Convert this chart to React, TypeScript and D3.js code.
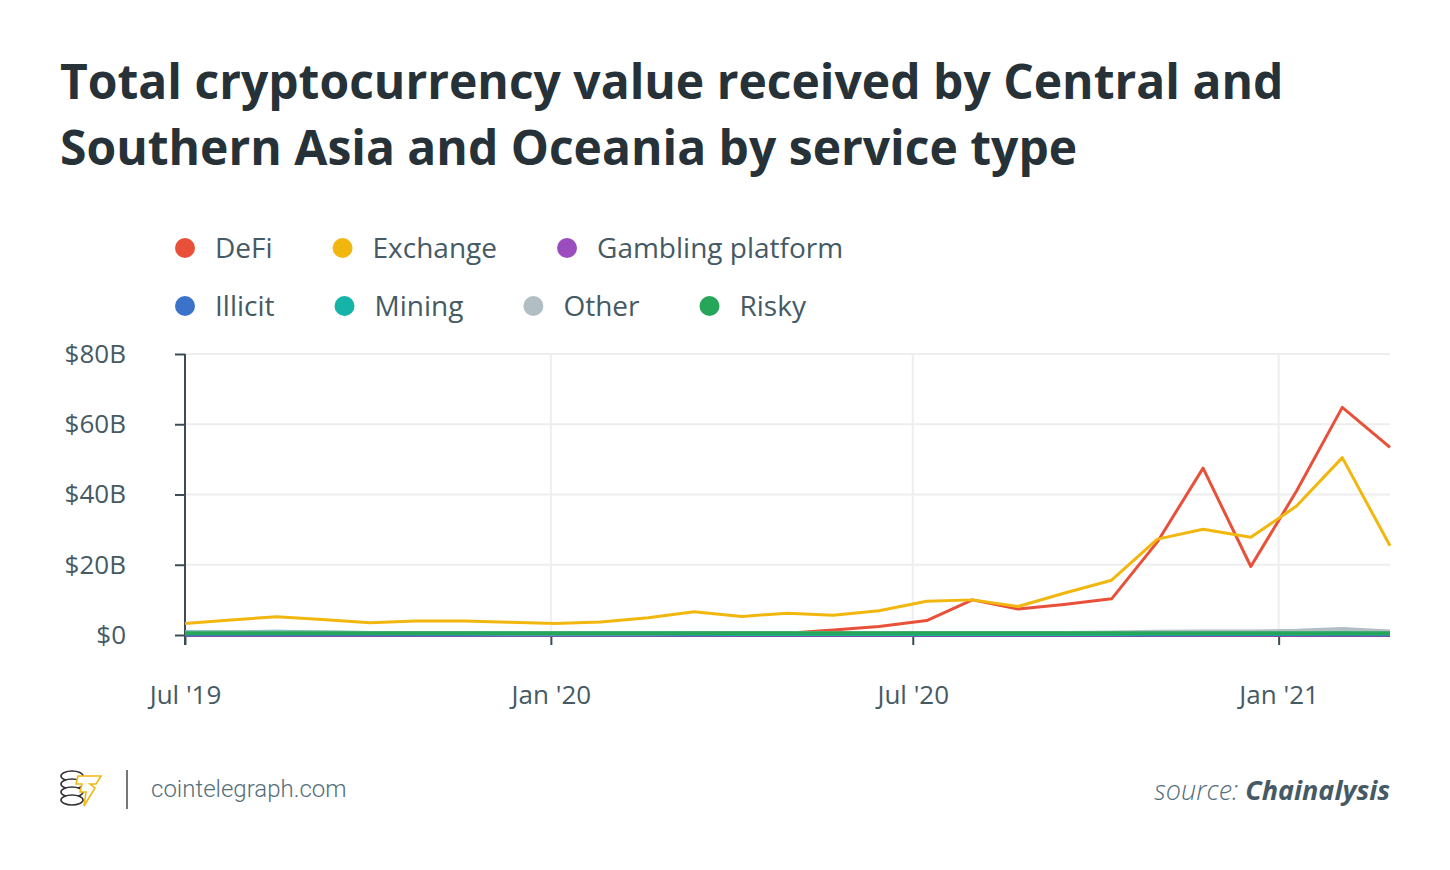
import React, { useEffect, useRef } from "react";
import * as d3 from "d3";

// sampling dates of the series (roughly every 3 weeks)
const dates = [
  "2019-07-01", "2019-07-24", "2019-08-16", "2019-09-08", "2019-10-02", "2019-10-25",
  "2019-11-18", "2019-12-11", "2020-01-03", "2020-01-26", "2020-02-19", "2020-03-13",
  "2020-04-06", "2020-04-29", "2020-05-22", "2020-06-14", "2020-07-08", "2020-07-31",
  "2020-08-23", "2020-09-15", "2020-10-09", "2020-11-01", "2020-11-24", "2020-12-18",
  "2021-01-10", "2021-02-02", "2021-02-26",
];

// values in $B
const defi = [
  0.1, 0.1, 0.1, 0.1, 0.1, 0.1, 0.1, 0.1, 0.1, 0.1, 0.1, 0.2, 0.3, 0.5,
  1.4, 2.4, 4.1, 10.0, 7.4, 8.7, 10.3, 26.5, 47.5, 19.5, 41.0, 64.8, 53.4,
];
const exchange = [
  3.3, 4.3, 5.2, 4.4, 3.5, 4.0, 4.0, 3.6, 3.3, 3.7, 4.9, 6.6, 5.3, 6.2,
  5.6, 6.9, 9.6, 10.0, 8.1, 11.9, 15.6, 27.3, 30.1, 27.8, 36.7, 50.5, 25.4,
];
const gambling = [
  0.1, 0.1, 0.1, 0.1, 0.1, 0.1, 0.1, 0.1, 0.1, 0.1, 0.1, 0.1, 0.1, 0.1,
  0.1, 0.1, 0.1, 0.1, 0.1, 0.1, 0.1, 0.1, 0.1, 0.1, 0.1, 0.1, 0.1,
];
const illicit = [
  0.2, 0.2, 0.2, 0.2, 0.2, 0.2, 0.2, 0.2, 0.2, 0.2, 0.2, 0.2, 0.2, 0.2,
  0.2, 0.2, 0.2, 0.2, 0.2, 0.2, 0.2, 0.2, 0.3, 0.3, 0.3, 0.3, 0.3,
];
const mining = [
  0.8, 0.8, 0.9, 0.7, 0.6, 0.5, 0.5, 0.4, 0.4, 0.4, 0.4, 0.4, 0.3, 0.3,
  0.3, 0.3, 0.3, 0.3, 0.3, 0.3, 0.3, 0.4, 0.4, 0.4, 0.4, 0.5, 0.4,
];
const other = [
  0.7, 0.8, 0.8, 0.7, 0.6, 0.6, 0.6, 0.5, 0.5, 0.5, 0.5, 0.6, 0.6, 0.6,
  0.6, 0.6, 0.6, 0.6, 0.6, 0.6, 0.7, 0.9, 1.0, 1.0, 1.2, 1.7, 1.0,
];
const risky = [
  0.5, 0.5, 0.5, 0.5, 0.5, 0.5, 0.5, 0.5, 0.5, 0.5, 0.5, 0.5, 0.5, 0.5,
  0.5, 0.5, 0.5, 0.5, 0.5, 0.5, 0.5, 0.5, 0.5, 0.5, 0.5, 0.5, 0.5,
];

const seriesNames = ["DeFi", "Exchange", "Gambling platform", "Illicit", "Mining", "Other", "Risky"];
const seriesValues = [defi, exchange, gambling, illicit, mining, other, risky];
const seriesColors = ["#e8503a", "#f2b70f", "#9b4dbd", "#3a73c9", "#15b3a8", "#b1bec4", "#25a65a"];

const yTicks = [0, 20, 40, 60, 80];
const xTickDates = ["2019-07-01", "2020-01-01", "2020-07-01", "2021-01-01"];

const App: React.FC = () => {
  const svgRef = useRef<SVGSVGElement | null>(null);

  useEffect(() => {
    document.body.style.margin = "0";
    if (!svgRef.current) return;

    const width = 1450;
    const height = 870;
    const svg = d3.select(svgRef.current);
    svg.selectAll("*").remove();
    svg.attr("width", width).attr("height", height);

    const left = 185, right = 1390, top = 354, bottom = 635;
    const textColor = "#455a64";
    const axisColor = "#3b4c55";
    const font = "'Open Sans', sans-serif";

    const parse = d3.timeParse("%Y-%m-%d");
    const xDates = dates.map(d => parse(d)!);

    const x = d3.scaleTime()
      .domain(d3.extent(xDates) as [Date, Date])
      .range([left, right]);
    const y = d3.scaleLinear().domain([0, 80]).range([bottom, top]);

    // title
    const title = svg.append("text")
      .attr("font-family", font)
      .attr("font-weight", 700)
      .attr("font-size", 48)
      .attr("fill", "#263238");
    title.append("tspan").attr("x", 60).attr("y", 99)
      .text("Total cryptocurrency value received by Central and");
    title.append("tspan").attr("x", 60).attr("y", 165)
      .text("Southern Asia and Oceania by service type");

    // legend
    const rows = [[0, 1, 2], [3, 4, 5, 6]];
    rows.forEach((row, ri) => {
      let cx = 185;
      const cy = 248 + ri * 58;
      row.forEach(i => {
        svg.append("circle").attr("cx", cx).attr("cy", cy).attr("r", 10)
          .attr("fill", seriesColors[i]);
        const t = svg.append("text")
          .attr("x", cx + 30).attr("y", cy)
          .attr("dy", "0.36em")
          .attr("font-family", font)
          .attr("font-size", 28)
          .attr("fill", textColor)
          .text(seriesNames[i]);
        const w = (t.node() as SVGTextElement).getComputedTextLength();
        cx = cx + 30 + w + 70;
      });
    });

    // grid
    svg.append("g")
      .selectAll("line")
      .data(yTicks.slice(1))
      .enter()
      .append("line")
      .attr("x1", left).attr("x2", right)
      .attr("y1", d => y(d)).attr("y2", d => y(d))
      .attr("stroke", "#eeeeee").attr("stroke-width", 2);

    const xTicks = xTickDates.map(d => parse(d)!);
    svg.append("g")
      .selectAll("line")
      .data(xTicks.slice(1))
      .enter()
      .append("line")
      .attr("x1", d => x(d)).attr("x2", d => x(d))
      .attr("y1", top).attr("y2", bottom)
      .attr("stroke", "#eeeeee").attr("stroke-width", 2);

    // y axis
    const yAxis = svg.append("g")
      .attr("transform", `translate(${left},0)`)
      .call(d3.axisLeft(y).tickValues(yTicks).tickSize(10).tickPadding(49)
        .tickFormat(d => (+d === 0 ? "$0" : `$${d}B`)));
    yAxis.select(".domain").remove();
    yAxis.selectAll("line").attr("stroke", axisColor).attr("stroke-width", 2);
    yAxis.selectAll("text")
      .attr("font-family", font).attr("font-size", 26).attr("fill", textColor);
    svg.append("line")
      .attr("x1", left).attr("x2", left).attr("y1", top).attr("y2", bottom + 10)
      .attr("stroke", axisColor).attr("stroke-width", 2);

    // x axis
    const xAxis = svg.append("g")
      .attr("transform", `translate(0,${bottom})`)
      .call(d3.axisBottom(x).tickValues(xTicks).tickSize(10).tickPadding(41)
        .tickFormat(d => d3.timeFormat("%b '%y")(d as Date)));
    xAxis.select(".domain").remove();
    xAxis.selectAll("line").attr("stroke", axisColor).attr("stroke-width", 2);
    xAxis.selectAll("text")
      .attr("font-family", font).attr("font-size", 26).attr("fill", textColor);
    svg.append("line")
      .attr("x1", left).attr("x2", right).attr("y1", bottom + 1).attr("y2", bottom + 1)
      .attr("stroke", axisColor).attr("stroke-width", 2);

    // series lines (drawn over the axes)
    const line = d3.line<number>()
      .x((_, i) => x(xDates[i]))
      .y(d => y(d));

    seriesValues.forEach((vals, i) => {
      svg.append("path")
        .datum(vals)
        .attr("fill", "none")
        .attr("stroke", seriesColors[i])
        .attr("stroke-width", i < 2 ? 3 : 4)
        .attr("stroke-linejoin", "round")
        .attr("d", line);
    });

    // footer logo
    const logo = svg.append("g").attr("fill", "none").attr("stroke-width", 1.6);
    [0, 8, 16, 24].forEach(o => {
      logo.append("ellipse").attr("cx", 72).attr("cy", 776 + o).attr("rx", 11).attr("ry", 5)
        .attr("stroke", "#333").attr("fill", "#fff");
    });
    logo.append("path")
      .attr("d", "M78,776 L101,776 L96,784 L90,784 L95,788 L84,806 L86,792 L80,792 L82,784 L76,784 Z")
      .attr("stroke", "#f2b70f").attr("fill", "#fff");
    svg.append("line")
      .attr("x1", 127).attr("x2", 127).attr("y1", 770).attr("y2", 809)
      .attr("stroke", "#777").attr("stroke-width", 2);
    svg.append("text")
      .attr("x", 151).attr("y", 797)
      .attr("font-family", "Roboto, sans-serif")
      .attr("font-weight", 300)
      .attr("font-size", 24)
      .attr("fill", "#546e7a")
      .text("cointelegraph.com");

    // source
    const src = svg.append("text")
      .attr("x", right).attr("y", 800)
      .attr("text-anchor", "end")
      .attr("font-family", font)
      .attr("font-style", "italic")
      .attr("font-size", 27);
    src.append("tspan").attr("font-weight", 300).attr("fill", "#546e7a").text("source: ");
    src.append("tspan").attr("font-weight", 700).attr("fill", textColor).text("Chainalysis");
  }, []);

  return <svg ref={svgRef} style={{ display: "block", background: "#fff" }}></svg>;
};

export default App;
